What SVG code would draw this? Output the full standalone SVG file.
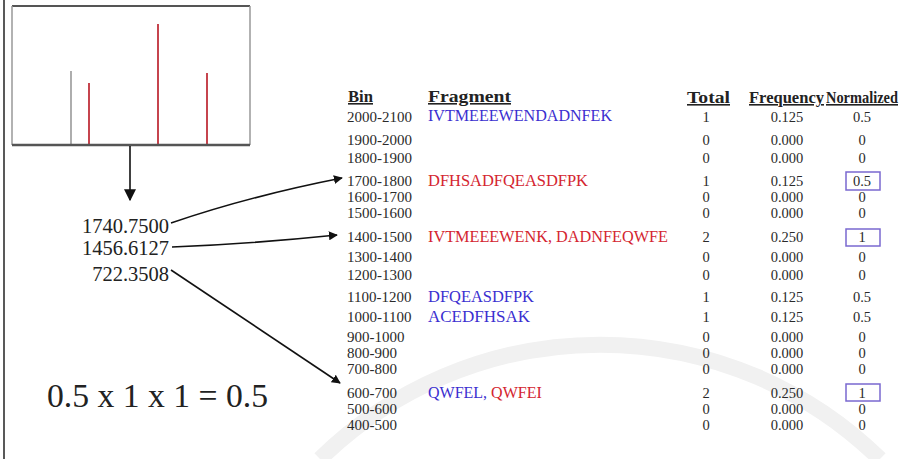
<svg xmlns="http://www.w3.org/2000/svg" width="905" height="459" viewBox="0 0 905 459">
<style>
.bin{font-family:"Liberation Serif",serif;font-size:15px;fill:#2a2a2a}
.val{font-family:"Liberation Serif",serif;font-size:14.5px;fill:#2a2a2a;text-anchor:middle}
.hdr{font-family:"Liberation Serif",serif;font-size:16px;font-weight:bold;fill:#222;text-decoration:underline}
.frag{font-family:"Liberation Serif",serif;font-size:16px}
.blue{fill:#3b2fd0}
.red{fill:#d42530}
.num{font-family:"Liberation Serif",serif;font-size:20.5px;fill:#222;text-anchor:end}
.conn{fill:none;stroke:#111;stroke-width:1.6}
.box{fill:none;stroke:#7a68d0;stroke-width:1.5}
</style>
<defs>
<marker id="ah" viewBox="0 0 10 10" refX="9" refY="5" markerWidth="9" markerHeight="9" markerUnits="userSpaceOnUse" orient="auto">
<path d="M0,0 L10,5 L0,10 z" fill="#111"/>
</marker>
<marker id="ahv" viewBox="0 0 10 10" refX="9" refY="5" markerWidth="12" markerHeight="12" markerUnits="userSpaceOnUse" orient="auto">
<path d="M0,0 L10,5 L0,10 z" fill="#111"/>
</marker>
</defs>
<rect width="905" height="459" fill="#fff"/>
<!-- watermark arc -->
<path d="M320,459 A400,400 0 0 1 880,459" fill="none" stroke="#f1f1f1" stroke-width="16"/>
<!-- frame -->
<line x1="4" y1="0" x2="4" y2="459" stroke="#222" stroke-width="1.5"/>
<!-- spectrum -->
<g id="spectrum">
<line x1="12" y1="6" x2="250" y2="6" stroke="#555" stroke-width="2"/>
<line x1="12" y1="6" x2="12" y2="145" stroke="#999" stroke-width="1.5"/>
<line x1="250" y1="6" x2="250" y2="145" stroke="#999" stroke-width="1.5"/>
<line x1="71" y1="71" x2="71" y2="145" stroke="#777" stroke-width="1.2"/>
<line x1="89" y1="83" x2="89" y2="145" stroke="#c0303a" stroke-width="1.8"/>
<line x1="158" y1="24" x2="158" y2="145" stroke="#c0303a" stroke-width="1.8"/>
<line x1="207" y1="73" x2="207" y2="145" stroke="#c0303a" stroke-width="1.8"/>
<line x1="12" y1="145" x2="250" y2="145" stroke="#555" stroke-width="2.5"/>
</g>
<g id="connectors">
<line class="conn" x1="130" y1="146" x2="130" y2="200" marker-end="url(#ahv)"/>
<path class="conn" d="M171,223 Q250,196 342,178" marker-end="url(#ah)"/>
<path class="conn" d="M172,247 Q250,244 337,235" marker-end="url(#ah)"/>
<path class="conn" d="M171,270 L340,383" marker-end="url(#ah)"/>
</g>
<g id="masses">
<text class="num" x="169" y="233">1740.7500</text>
<text class="num" x="169" y="255">1456.6127</text>
<text class="num" x="169" y="281">722.3508</text>
</g>
<g id="equation">
<text x="47" y="407" font-family="Liberation Serif, serif" font-size="33" fill="#222" textLength="221" lengthAdjust="spacingAndGlyphs">0.5 x 1 x 1 = 0.5</text>
</g>
<g id="table">
<text class="hdr" x="348" y="102" textLength="25" lengthAdjust="spacingAndGlyphs">Bin</text>
<text class="hdr" x="428" y="102" textLength="83" lengthAdjust="spacingAndGlyphs">Fragment</text>
<text class="hdr" x="687" y="103" textLength="43" lengthAdjust="spacingAndGlyphs">Total</text>
<text class="hdr" x="749" y="103" textLength="75" lengthAdjust="spacingAndGlyphs">Frequency</text>
<text class="hdr" x="826" y="103" textLength="72" lengthAdjust="spacingAndGlyphs">Normalized</text>

<text class="bin" x="347" y="122">2000-2100</text>
<text class="bin" x="347" y="145">1900-2000</text>
<text class="bin" x="347" y="163">1800-1900</text>
<text class="bin" x="347" y="186">1700-1800</text>
<text class="bin" x="347" y="202">1600-1700</text>
<text class="bin" x="347" y="218">1500-1600</text>
<text class="bin" x="347" y="242">1400-1500</text>
<text class="bin" x="347" y="262">1300-1400</text>
<text class="bin" x="347" y="280">1200-1300</text>
<text class="bin" x="347" y="302">1100-1200</text>
<text class="bin" x="347" y="322">1000-1100</text>
<text class="bin" x="347" y="342">900-1000</text>
<text class="bin" x="347" y="358">800-900</text>
<text class="bin" x="347" y="374">700-800</text>
<text class="bin" x="347" y="398">600-700</text>
<text class="bin" x="347" y="414">500-600</text>
<text class="bin" x="347" y="430">400-500</text>

<text class="frag blue" x="428" y="121" textLength="184" lengthAdjust="spacingAndGlyphs">IVTMEEEWENDADNFEK</text>
<text class="frag red" x="428" y="186" textLength="160" lengthAdjust="spacingAndGlyphs">DFHSADFQEASDFPK</text>
<text class="frag red" x="428" y="242" textLength="240" lengthAdjust="spacingAndGlyphs">IVTMEEEWENK, DADNFEQWFE</text>
<text class="frag blue" x="428" y="302" textLength="106" lengthAdjust="spacingAndGlyphs">DFQEASDFPK</text>
<text class="frag blue" x="428" y="322" textLength="102" lengthAdjust="spacingAndGlyphs">ACEDFHSAK</text>
<text class="frag" x="428" y="398"><tspan class="blue">QWFEL,</tspan><tspan class="red"> QWFEI</tspan></text>

<g class="val">
<text x="706" y="122">1</text><text x="787" y="122">0.125</text><text x="862" y="122">0.5</text>
<text x="706" y="145">0</text><text x="787" y="145">0.000</text><text x="862" y="145">0</text>
<text x="706" y="163">0</text><text x="787" y="163">0.000</text><text x="862" y="163">0</text>
<text x="706" y="186">1</text><text x="787" y="186">0.125</text><text x="862" y="186">0.5</text>
<text x="706" y="202">0</text><text x="787" y="202">0.000</text><text x="862" y="202">0</text>
<text x="706" y="218">0</text><text x="787" y="218">0.000</text><text x="862" y="218">0</text>
<text x="706" y="242">2</text><text x="787" y="242">0.250</text><text x="862" y="242">1</text>
<text x="706" y="262">0</text><text x="787" y="262">0.000</text><text x="862" y="262">0</text>
<text x="706" y="280">0</text><text x="787" y="280">0.000</text><text x="862" y="280">0</text>
<text x="706" y="302">1</text><text x="787" y="302">0.125</text><text x="862" y="302">0.5</text>
<text x="706" y="322">1</text><text x="787" y="322">0.125</text><text x="862" y="322">0.5</text>
<text x="706" y="342">0</text><text x="787" y="342">0.000</text><text x="862" y="342">0</text>
<text x="706" y="358">0</text><text x="787" y="358">0.000</text><text x="862" y="358">0</text>
<text x="706" y="374">0</text><text x="787" y="374">0.000</text><text x="862" y="374">0</text>
<text x="706" y="398">2</text><text x="787" y="398">0.250</text><text x="862" y="398">1</text>
<text x="706" y="414">0</text><text x="787" y="414">0.000</text><text x="862" y="414">0</text>
<text x="706" y="430">0</text><text x="787" y="430">0.000</text><text x="862" y="430">0</text>
</g>
<rect class="box" x="846" y="172" width="34" height="18"/>
<rect class="box" x="846" y="229" width="34" height="17"/>
<rect class="box" x="846" y="384" width="34" height="17"/>
</g>
</svg>
